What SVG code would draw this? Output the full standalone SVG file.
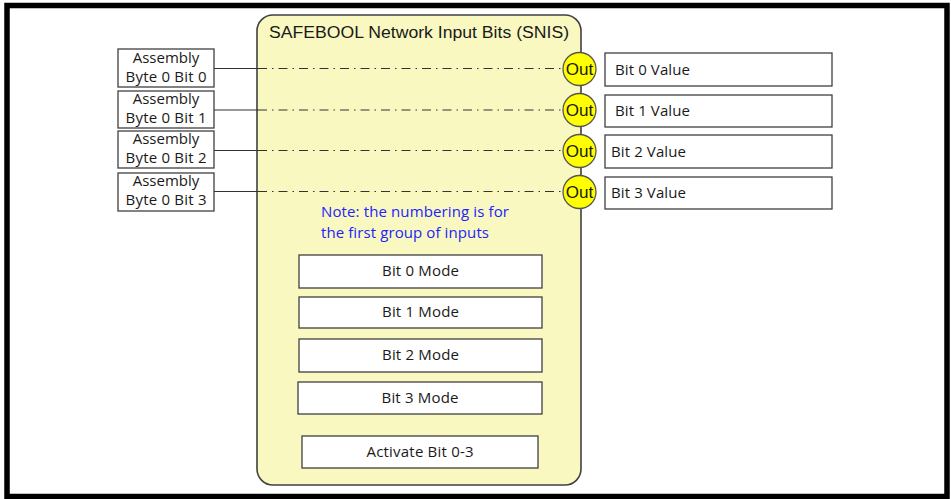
<svg xmlns="http://www.w3.org/2000/svg" width="951" height="499" viewBox="0 0 951 499">
<style>
.box{fill:#fff;stroke:#404040;stroke-width:1.3}
.t{font-family:"Open Sans","Liberation Sans",sans-serif;font-size:15px;fill:#1a1a1a}
.tc{text-anchor:middle}
.note{font-family:"Open Sans","Liberation Sans",sans-serif;font-size:15px;fill:#2222ff}
.out{fill:#ffff00;stroke:#555;stroke-width:1.3}
.outt{font-family:"Liberation Sans",Arial,sans-serif;font-size:17px;fill:#1a1a1a;text-anchor:middle}
.solid{stroke:#333;stroke-width:1.2;fill:none}
.dd{stroke:#333;stroke-width:1.2;fill:none;stroke-dasharray:9 5 1.5 5}
</style>
<rect x="0" y="0" width="951" height="499" fill="#fff"/>
<rect x="7" y="5.5" width="940" height="491" fill="none" stroke="#000" stroke-width="5.5"/>

<g id="snis">
<rect x="257" y="15" width="324" height="470" rx="16" ry="16" fill="#f8f8c0" stroke="#404040" stroke-width="1.6"/>
<text x="269" y="38" font-family="Liberation Sans,Arial,sans-serif" font-size="16" fill="#1a1a1a" textLength="300" lengthAdjust="spacingAndGlyphs">SAFEBOOL Network Input Bits (SNIS)</text>
</g>

<g id="connectors">
<line class="solid" x1="214" y1="68.5" x2="258" y2="68.5"/>
<line class="dd" x1="258" y1="68.5" x2="563" y2="68.5"/>
<line class="solid" x1="214" y1="110" x2="258" y2="110"/>
<line class="dd" x1="258" y1="110" x2="563" y2="110"/>
<line class="solid" x1="214" y1="150.5" x2="258" y2="150.5"/>
<line class="dd" x1="258" y1="150.5" x2="563" y2="150.5"/>
<line class="solid" x1="214" y1="191.5" x2="258" y2="191.5"/>
<line class="dd" x1="258" y1="191.5" x2="563" y2="191.5"/>
</g>

<g id="in0"><rect class="box" x="118" y="49" width="96" height="38"/><text class="t tc" x="166" y="63">Assembly</text><text class="t tc" x="166" y="82" textLength="81">Byte 0 Bit 0</text></g>
<g id="in1"><rect class="box" x="118" y="91" width="96" height="37"/><text class="t tc" x="166" y="104">Assembly</text><text class="t tc" x="166" y="123" textLength="81">Byte 0 Bit 1</text></g>
<g id="in2"><rect class="box" x="118" y="131" width="96" height="37"/><text class="t tc" x="166" y="144">Assembly</text><text class="t tc" x="166" y="163" textLength="81">Byte 0 Bit 2</text></g>
<g id="in3"><rect class="box" x="118" y="173" width="96" height="38"/><text class="t tc" x="166" y="186">Assembly</text><text class="t tc" x="166" y="205" textLength="81">Byte 0 Bit 3</text></g>

<g id="out0"><circle class="out" cx="579.5" cy="69" r="16.5"/><text class="outt" x="579.5" y="75">Out</text></g>
<g id="out1"><circle class="out" cx="579.5" cy="110" r="16.5"/><text class="outt" x="579.5" y="116">Out</text></g>
<g id="out2"><circle class="out" cx="579.5" cy="151" r="16.5"/><text class="outt" x="579.5" y="157">Out</text></g>
<g id="out3"><circle class="out" cx="579.5" cy="192" r="16.5"/><text class="outt" x="579.5" y="198">Out</text></g>

<g id="val0"><rect class="box" x="605" y="53" width="227" height="33"/><text class="t" x="615" y="75" textLength="75">Bit 0 Value</text></g>
<g id="val1"><rect class="box" x="605" y="95" width="227" height="32"/><text class="t" x="615" y="116" textLength="75">Bit 1 Value</text></g>
<g id="val2"><rect class="box" x="605" y="135" width="227" height="33"/><text class="t" x="611" y="157" textLength="75">Bit 2 Value</text></g>
<g id="val3"><rect class="box" x="605" y="177" width="227" height="32"/><text class="t" x="611" y="198" textLength="75">Bit 3 Value</text></g>

<g id="note">
<text class="note" x="321" y="217" textLength="188">Note: the numbering is for</text>
<text class="note" x="321" y="238" textLength="168">the first group of inputs</text>
</g>

<g id="mode0"><rect class="box" x="299" y="255" width="243" height="33"/><text class="t tc" x="420.5" y="276" textLength="77">Bit 0 Mode</text></g>
<g id="mode1"><rect class="box" x="299" y="297" width="243" height="31"/><text class="t tc" x="420.5" y="317" textLength="77">Bit 1 Mode</text></g>
<g id="mode2"><rect class="box" x="299" y="339" width="243" height="33"/><text class="t tc" x="420.5" y="360" textLength="77">Bit 2 Mode</text></g>
<g id="mode3"><rect class="box" x="298" y="382" width="244" height="32"/><text class="t tc" x="420" y="403" textLength="77">Bit 3 Mode</text></g>
<g id="activate"><rect class="box" x="302" y="436" width="236" height="32"/><text class="t tc" x="420" y="457" textLength="107">Activate Bit 0-3</text></g>
</svg>
